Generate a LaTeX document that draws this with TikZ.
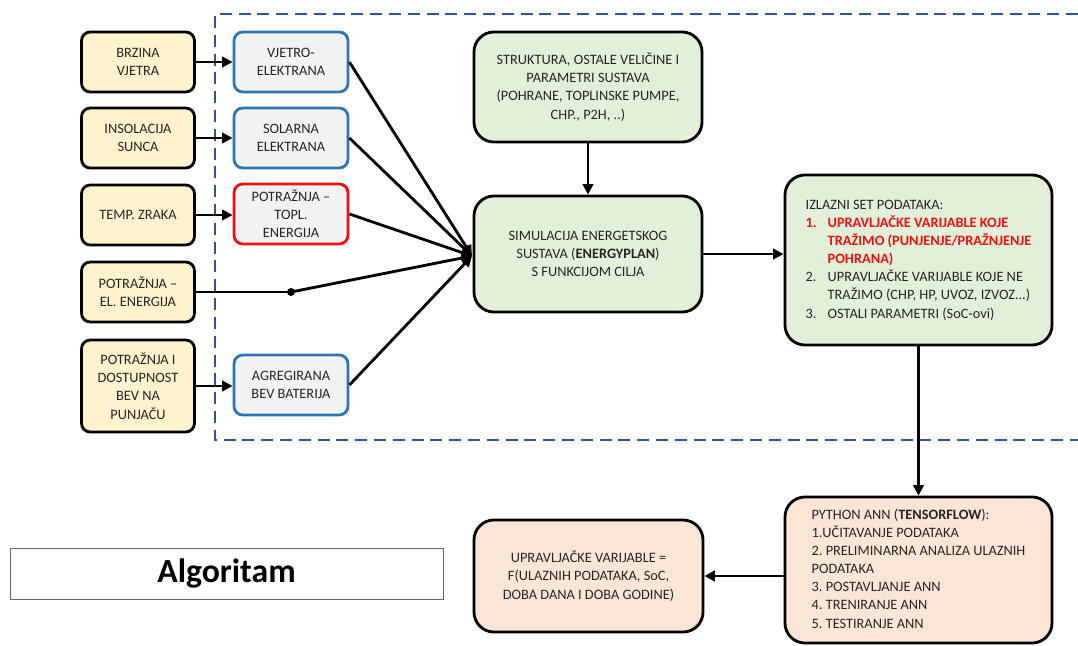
\documentclass[tikz,border=0pt]{standalone}
\usepackage{fontspec}
\setmainfont{Carlito}
\usepackage{xcolor}
\usetikzlibrary{arrows.meta}
\definecolor{zuta}{HTML}{FFF2CC}
\definecolor{siva}{HTML}{F2F2F2}
\definecolor{plava}{HTML}{2E75B6}
\definecolor{crvena}{HTML}{F01010}
\definecolor{zelena}{HTML}{E2F0D9}
\definecolor{breskva}{HTML}{FBE5D6}
\definecolor{okvirplava}{HTML}{2F5597}
\definecolor{tekst}{HTML}{262626}
\frenchspacing

\begin{document}
\begin{tikzpicture}[x=0.025cm,y=-0.025cm,>={Triangle[length=7.5pt,width=7.5pt]},
		kutija/.style={draw=black,line width=2pt,rounded corners=0.22cm,align=center,
			text=tekst,font=\fontsize{10.2}{12.9}\selectfont},
		ulaz/.style={kutija,fill=zuta,minimum width=2.825cm,minimum height=1.5cm},
		izvor/.style={kutija,fill=siva,draw=plava,minimum width=2.85cm,minimum height=1.5cm},
		sustav/.style={kutija,fill=zelena,rounded corners=0.5cm,minimum width=5.7cm},
		rezultat/.style={kutija,fill=breskva,rounded corners=0.5cm},
		veza/.style={->,line width=2pt}]
		\useasboundingbox (0,0) rectangle (1078,645);
		\draw[okvirplava,line width=2pt,dash pattern=on 0.3cm off 0.17cm]
		(1078,14) -- (215,14) -- (215,440) -- (1078,440);
		\draw (138,62) node[ulaz] (brzina) {BRZINA\\VJETRA};
		\draw (138,138) node[ulaz] (insolacija) {INSOLACIJA\\SUNCA};
		\draw (138,215) node[ulaz] (temp) {TEMP. ZRAKA};
		\draw (138,292) node[ulaz] (potel) {POTRAŽNJA –\\EL. ENERGIJA};
		\draw (138,386) node[ulaz,minimum height=2.3cm] (bev)
		{POTRAŽNJA I\\DOSTUPNOST\\BEV NA\\PUNJAČU};
		\draw (291,62) node[izvor] (vjetro) {VJETRO-\\ELEKTRANA};
		\draw (291,138) node[izvor] (solarna) {SOLARNA\\ELEKTRANA};
		\draw (291,214) node[izvor,draw=crvena] (toplinska)
		{POTRAŽNJA –\\TOPL.\\ENERGIJA};
		\draw (291,385) node[izvor] (baterija) {AGREGIRANA\\BEV BATERIJA};
		\draw (588,87) node[sustav,minimum height=2.75cm] (struktura)
		{STRUKTURA, OSTALE VELIČINE I\\PARAMETRI SUSTAVA\\(POHRANE, TOPLINSKE PUMPE,\\CHP., P2H, ..)};
		\draw (588,254) node[sustav,minimum height=2.9cm] (simulacija)
		{SIMULACIJA ENERGETSKOG\\SUSTAVA (\textbf{ENERGYPLAN})\\S FUNKCIJOM CILJA};
		\draw (918.5,260) node[sustav,minimum width=6.675cm,minimum height=4.25cm] (izlaz)
		{\begin{tabular}{@{}p{0.55cm}@{}l@{}}
		\multicolumn{2}{@{}l@{}}{IZLAZNI SET PODATAKA:}\\
		\textcolor{crvena}{\textbf{1.}} & \textcolor{crvena}{\textbf{UPRAVLJAČKE VARIJABLE KOJE}}\\
		& \textcolor{crvena}{\textbf{TRAŽIMO (PUNJENJE/PRAŽNJENJE}}\\
		& \textcolor{crvena}{\textbf{POHRANA)}}\\
		2. & UPRAVLJAČKE VARIJABLE KOJE NE\\
		& TRAŽIMO (CHP, HP, UVOZ, IZVOZ...)\\
		3. & OSTALI PARAMETRI (SoC-ovi)
		\end{tabular}};
		\draw (918.5,570) node[rezultat,minimum width=6.675cm,minimum height=3.65cm] (python)
		{\begin{tabular}{@{}l@{}}
		PYTHON ANN (\textbf{TENSORFLOW}):\\1.UČITAVANJE PODATAKA\\
		2. PRELIMINARNA ANALIZA ULAZNIH\\PODATAKA\\3. POSTAVLJANJE ANN\\
		4. TRENIRANJE ANN\\5. TESTIRANJE ANN
		\end{tabular}};
		\draw (588.5,576) node[rezultat,minimum width=5.725cm,minimum height=2.8cm] (upravljanje)
		{UPRAVLJAČKE VARIJABLE =\\F(ULAZNIH PODATAKA, SoC,\\DOBA DANA I DOBA GODINE)};
		\draw (226.5,574) node[draw=black!60,line width=0.6pt,minimum width=10.825cm,
		minimum height=1.275cm,font=\fontsize{24}{28}\selectfont\bfseries] (naslov) {Algoritam};
		\coordinate (cilj) at (472,256);
		\draw (291,292) node[circle,fill=black,inner sep=0pt,minimum size=0.2cm] (cvor) {};
		\draw[veza] (brzina) -- (vjetro);
		\draw[veza] (insolacija) -- (solarna);
		\draw[veza] (temp.east) -- (temp.east -| toplinska.west);
		\draw[veza] (bev.east) -- (bev.east -| baterija.west);
		\draw[veza] (vjetro.east) -- (cilj);
		\draw[veza] (solarna.east) -- (cilj);
		\draw[veza] (toplinska.east) -- (cilj);
		\draw[line width=2pt] (potel.east) -- (cvor.center);
		\draw[veza] (cvor.center) -- (cilj);
		\draw[veza] (baterija.east) -- (cilj);
		\draw[veza] (struktura) -- (simulacija);
		\draw[veza] (simulacija.east) -- (simulacija.east -| izlaz.west);
		\draw[veza] (izlaz) -- (python);
		\draw[veza] (python.west |- upravljanje.east) -- (upravljanje.east);
	\end{tikzpicture}
\end{document}
